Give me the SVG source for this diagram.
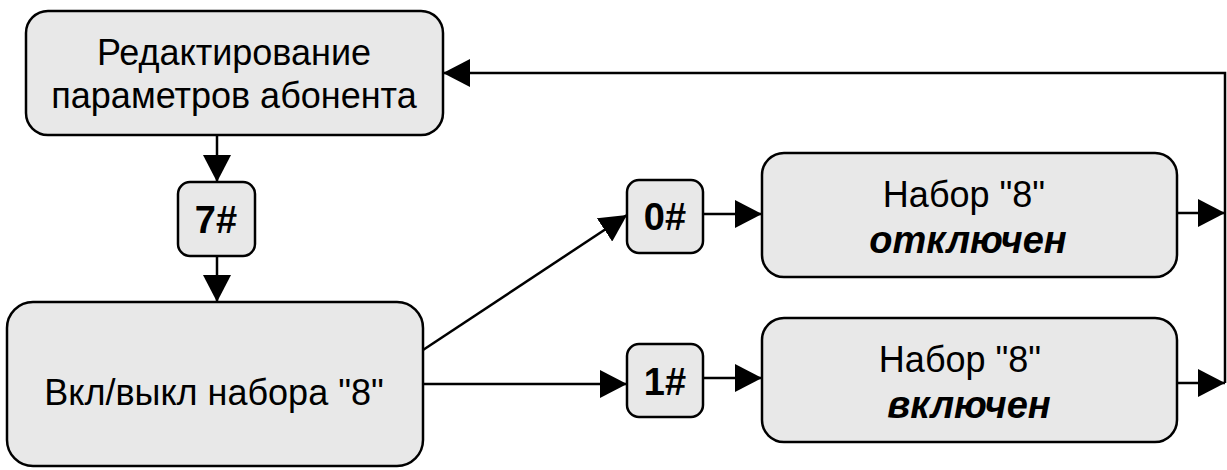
<svg xmlns="http://www.w3.org/2000/svg" width="1227" height="470" viewBox="0 0 1227 470">
<style>
.n{fill:#e8e8e8;stroke:#000;stroke-width:2.5}
.t{font-family:"Liberation Sans",Arial,sans-serif;font-size:36px;fill:#000;text-anchor:middle}
.b{font-weight:bold;font-size:38px}
.i{font-weight:bold;font-style:italic;font-size:38px}
.c{fill:none;stroke:#000;stroke-width:2.5}
</style>
<defs>
<marker id="a" markerUnits="userSpaceOnUse" markerWidth="28" markerHeight="28" refX="27" refY="14" orient="auto">
<path d="M0,0 L27,14 L0,28 Z" fill="#000"/>
</marker>
</defs>
<g id="connectors">
<path class="c" d="M217,135 V182" marker-end="url(#a)"/>
<path class="c" d="M217,256 V302" marker-end="url(#a)"/>
<path class="c" d="M423,350 L627,215" marker-end="url(#a)"/>
<path class="c" d="M423,384 H627" marker-end="url(#a)"/>
<path class="c" d="M703,214 H762" marker-end="url(#a)"/>
<path class="c" d="M703,378 H762" marker-end="url(#a)"/>
<path class="c" d="M1177,213 H1225" marker-end="url(#a)"/>
<path class="c" d="M1177,383 H1225" marker-end="url(#a)"/>
<path class="c" d="M1225,383 V73 H443" marker-end="url(#a)"/>
</g>
<g id="n1">
<rect class="n" x="26" y="11" width="417" height="124" rx="22"/>
<text class="t" x="234" y="65">Редактирование</text>
<text class="t" x="234" y="108">параметров абонента</text>
</g>
<g id="n7">
<rect class="n" x="178" y="182" width="77" height="74" rx="12"/>
<text class="t b" x="216" y="233">7#</text>
</g>
<g id="n2">
<rect class="n" x="7" y="302" width="416" height="164" rx="26"/>
<text class="t" x="214" y="405">Вкл/выкл набора "8"</text>
</g>
<g id="n0h">
<rect class="n" x="627" y="180" width="76" height="73" rx="12"/>
<text class="t b" x="665" y="230">0#</text>
</g>
<g id="n1h">
<rect class="n" x="627" y="344" width="76" height="73" rx="12"/>
<text class="t b" x="665" y="395">1#</text>
</g>
<g id="nOff">
<rect class="n" x="762" y="153" width="415" height="124" rx="22"/>
<text class="t" x="964" y="207">Набор "8"</text>
<text class="t i" x="968" y="253">отключен</text>
</g>
<g id="nOn">
<rect class="n" x="762" y="318" width="415" height="124" rx="22"/>
<text class="t" x="960" y="372">Набор "8"</text>
<text class="t i" x="969" y="418">включен</text>
</g>
</svg>
